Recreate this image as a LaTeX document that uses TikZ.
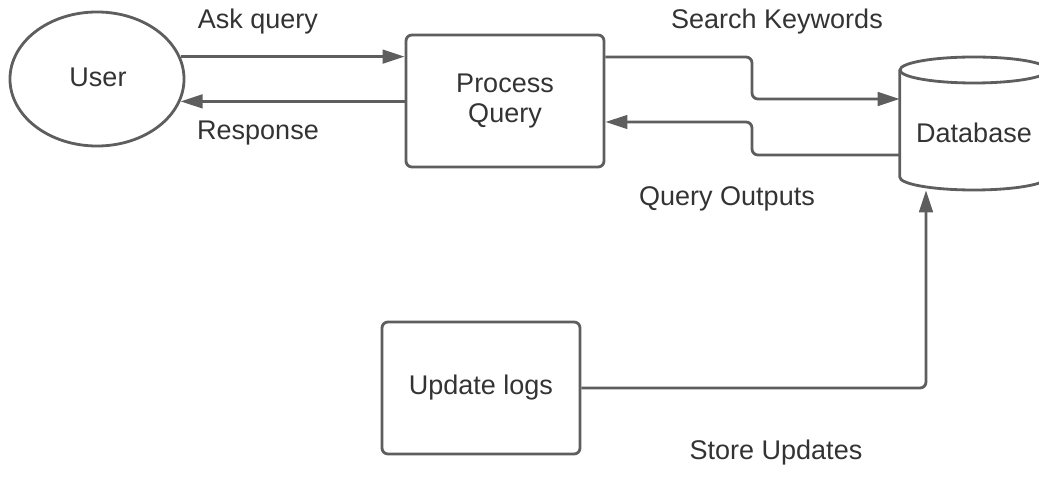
\documentclass[tikz,border=0pt]{standalone}
\usepackage{fontspec}
\setmainfont{Liberation Sans}
\usetikzlibrary{arrows.meta,shapes.geometric}
\definecolor{linie}{HTML}{5E5E5E}
\definecolor{schrift}{HTML}{333333}
\begin{document}
\begin{tikzpicture}[x=0.025cm,y=-0.025cm]
\tikzset{every node/.style={font=\fontsize{19.2}{21.3}\selectfont,text=schrift},
  kasten/.style={draw=linie,line width=2pt,rounded corners=0.15cm,minimum width=4.95cm,minimum height=3.3cm,align=center},
  oval/.style={draw=linie,line width=2pt,ellipse,minimum width=4.35cm,minimum height=3.35cm,inner sep=0pt},
  linie/.style={draw=linie,line width=2pt},
  pfeil/.style={linie,rounded corners=0.15cm,-{Triangle[length=0.55cm,width=0.34cm]}}}
\useasboundingbox (0,0) rectangle (1039,477);
\clip (0,0) rectangle (1039,477);
\node [oval] (user) at (97,79) {};
\node (usertext) at (98,77) {User};
\node [kasten] (pq) at (505,101) {Process\\Query};
\node [kasten] (ul) at (481,388) {Update logs};
\node [minimum width=3.7cm,minimum height=2.85cm] (db) at (974,133) {Database};
% zylinder
\draw[linie] (974,70) ellipse [x radius=1.85cm, y radius=0.325cm];
\draw[linie] (db.west |- 0,70) -- (db.west |- 0,177) arc [start angle=180, end angle=360, x radius=1.85cm, y radius=0.325cm] -- (1048,70);
% beschriftungen
\node (ask) at (258,22) {Ask query};
\node (resp) at (258,133) {Response};
\node (search) at (777,22) {Search Keywords};
\node (qout) at (727,199) {Query Outputs};
\node (store) at (776,453) {Store Updates};
% verbindungen
\draw[pfeil] (user.15) to (user.15 -| pq.west);
\draw[pfeil] (pq.west |- user.-15) to (user.-15);
\draw[pfeil] (pq.east |- 0,57) -- (752,57) -- (752,99) -- (db.west |- 0,99);
\draw[pfeil] (db.west |- 0,155) -- (752,155) -- (752,122) -- (pq.east |- 0,122);
\draw[pfeil] (ul.east) -| ([xshift=-1.2cm]db.south);
\end{tikzpicture}
\end{document}
